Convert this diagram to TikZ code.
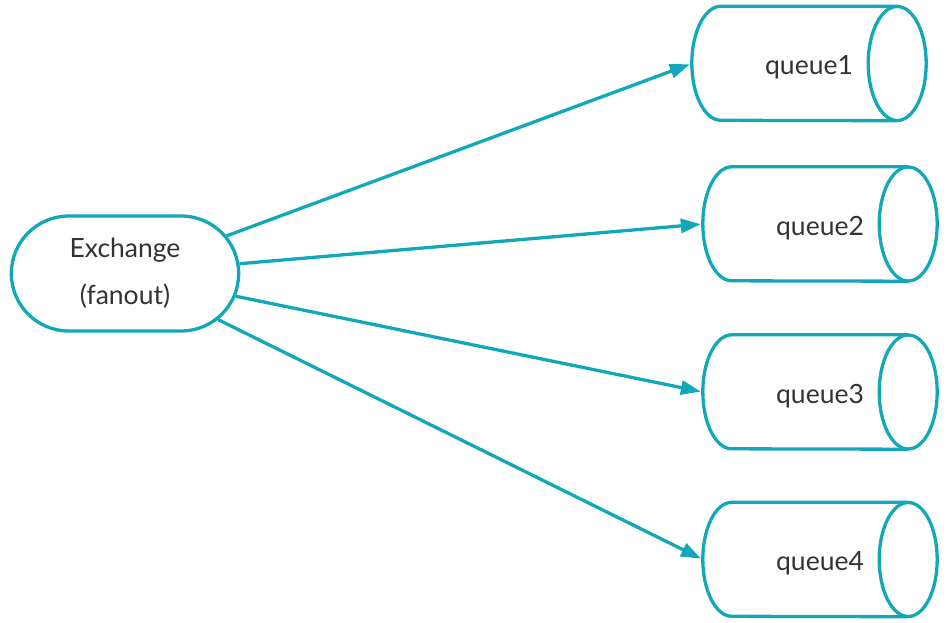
\documentclass[tikz,border=0pt]{standalone}
\usepackage{fontspec}
\setmainfont{Lato}
\usetikzlibrary{arrows.meta,shapes.misc}
\definecolor{teal1}{RGB}{18,168,185}
\definecolor{txt}{RGB}{51,51,51}
\begin{document}
\begin{tikzpicture}[x=1pt,y=-1pt,
  qnode/.style={rectangle, minimum width=234pt, minimum height=114pt, inner sep=0pt, text=txt, text height=27pt, text depth=5pt, font=\fontsize{26.5}{30}\selectfont},
  qline/.style={draw=teal1, line width=3.3pt},
  link/.style={draw=teal1, line width=3.3pt, -{Triangle[length=20pt,width=14pt]}, shorten >=2pt}]
\useasboundingbox (0,0) rectangle (948,622);
\node[rounded rectangle, draw=teal1, line width=3.3pt, fill=white, minimum width=234pt, minimum height=115pt, align=center, text=txt, font=\fontsize{26.5}{47}\selectfont] (ex) at (125,273.5) {Exchange\\(fanout)};
\node[qnode] (q1) at (809,63.5) {queue1};
\node[qnode] (q2) at (820,224) {queue2};
\node[qnode] (q3) at (820,392) {queue3};
\node[qnode] (q4) at (820,559.5) {queue4};
\foreach \q in {q1,q2,q3,q4}{
  \draw[qline] ([xshift=-29pt]\q.north east) -- ([xshift=29pt]\q.north west) arc[start angle=90,end angle=270,x radius=29pt,y radius=57pt] -- ([xshift=-29pt]\q.south east);
  \draw[qline] ([xshift=-29pt]\q.east) ellipse [x radius=29pt,y radius=57pt];
  \draw[link] (ex) -- (\q.west);
}
\end{tikzpicture}
\end{document}
